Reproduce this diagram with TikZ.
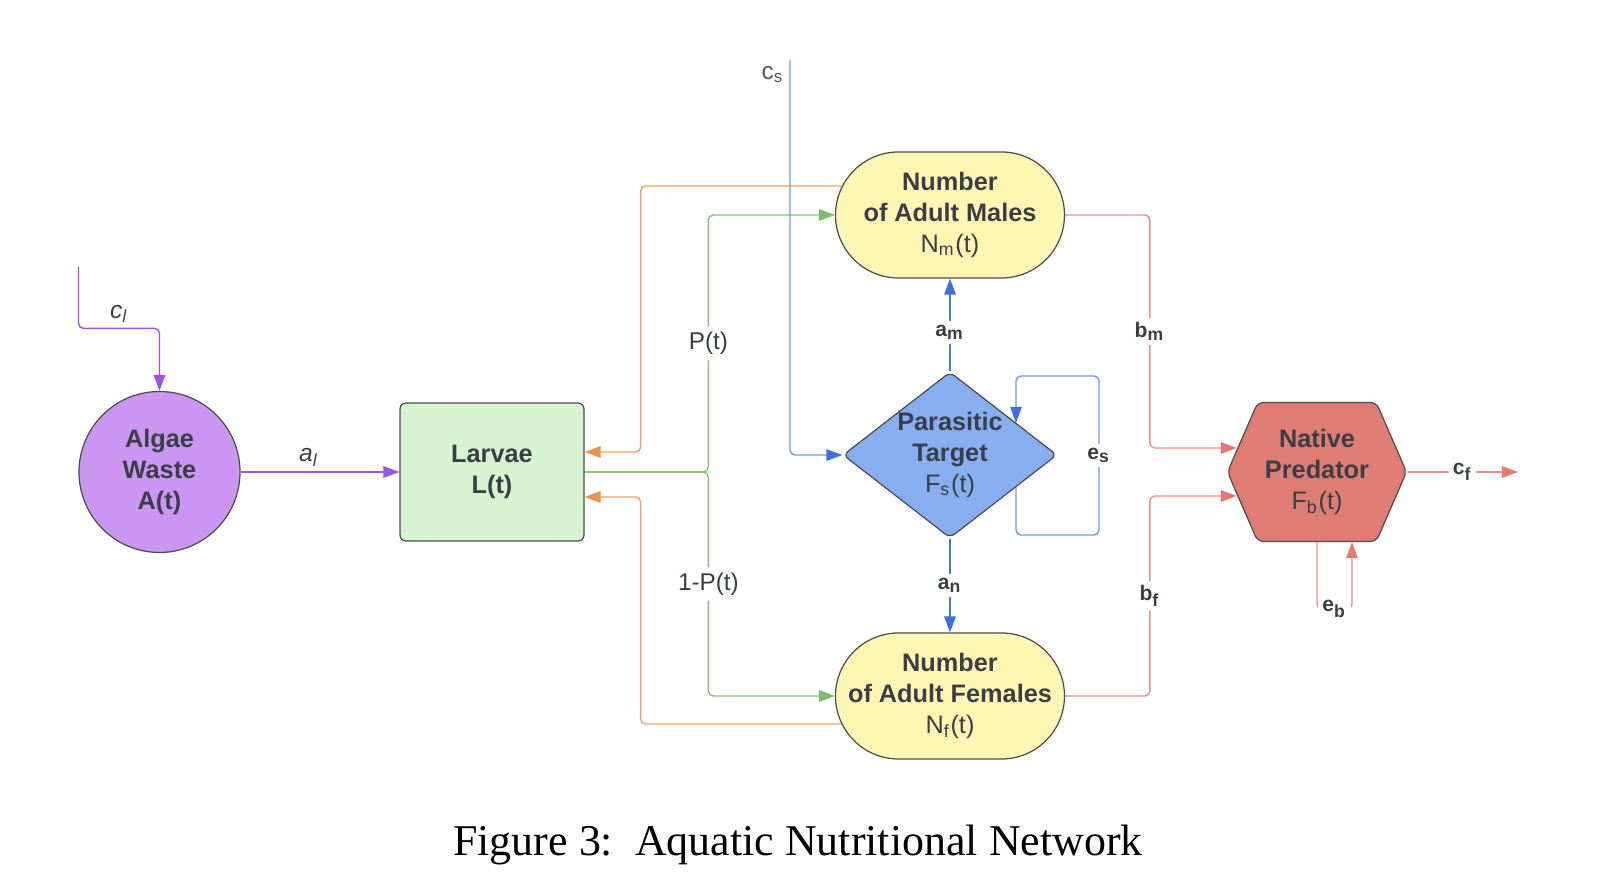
\documentclass[tikz,border=0pt]{standalone}
\usepackage{fontspec}
\setmainfont{Liberation Serif}
\newfontfamily\lucid{Liberation Sans}
\usetikzlibrary{positioning,arrows.meta,shapes.geometric,shapes.misc,shapes.symbols,backgrounds}
\definecolor{txt}{HTML}{3A3F47}
\definecolor{edge}{HTML}{4D4D4D}
\definecolor{algaefill}{HTML}{CA96F2}
\definecolor{larvafill}{HTML}{D6F4CF}
\definecolor{adultfill}{HTML}{FFF6B3}
\definecolor{targetfill}{HTML}{86AEF1}
\definecolor{predfill}{HTML}{DF7C74}
\definecolor{purp}{HTML}{9D52EA}
\definecolor{grn}{HTML}{84C170}
\definecolor{grntip}{HTML}{7BBD66}
\definecolor{orng}{HTML}{EDA064}
\definecolor{orngtip}{HTML}{E8944A}
\definecolor{blu}{HTML}{6F99EC}
\definecolor{bludark}{HTML}{4676E0}
\definecolor{blutip}{HTML}{3E6FDE}
\definecolor{rd}{HTML}{EA8F89}
\definecolor{rdtip}{HTML}{E47A72}
\newcommand{\ctext}[1]{\makebox[0pt]{#1}}
\begin{document}
\begin{tikzpicture}[node distance={3cm},
	main/.style = {draw=edge, line width=0.35pt, text=txt, align=center, inner sep=0pt, font=\lucid\fontsize{7.2}{8.8}\selectfont\bfseries},
	lbl/.style = {fill=white, inner sep=1.5pt, text=txt, font=\lucid\fontsize{6.9}{8}\selectfont},
	ital/.style = {inner sep=1.5pt, text=txt, font=\lucid\fontsize{7}{8}\selectfont\itshape},
	sub/.style = {fill=white, inner sep=1.2pt, text=txt, font=\lucid\fontsize{6}{7}\selectfont\bfseries},
	flow/.style = {rounded corners=0.5mm, -{Triangle[length=1.6mm, width=1.15mm, color=#1]}}]
		\useasboundingbox (0,0) rectangle (16.04,-8.90);
		\node[main, circle, fill=algaefill, minimum size=1.61cm] (A) at (1.595,-4.72) {\ctext{Algae}\\\ctext{Waste}\\\ctext{A(t)}};
		\node[main, rectangle, rounded corners=0.6mm, fill=larvafill, minimum width=1.84cm, minimum height=1.38cm] (L) [right of=A, node distance=3.325cm] {\ctext{Larvae}\\\ctext{L(t)}};
		\node[main, diamond, rounded corners=0.6mm, fill=targetfill, minimum width=2.14cm, minimum height=1.66cm] (Fs) [right of=L, node distance=4.58cm, yshift=1.7mm] {\ctext{Parasitic}\\\ctext{Target}\\\ctext{\mdseries F\textsubscript{s}(t)}};
		\node[main, rounded rectangle, fill=adultfill, minimum width=2.29cm, minimum height=1.26cm] (Nm) [above of=Fs, node distance=2.40cm] {\ctext{Number}\\\ctext{of Adult Males}\\\ctext{\mdseries N\textsubscript{m}(t)}};
		\node[main, rounded rectangle, fill=adultfill, minimum width=2.29cm, minimum height=1.26cm] (Nf) [below of=Fs, node distance=2.41cm] {\ctext{Number}\\\ctext{of Adult Females}\\\ctext{\mdseries N\textsubscript{f}(t)}};
		\node[main, signal, signal to=west and east, signal pointer angle=133, rounded corners=0.6mm, fill=predfill, minimum width=1.79cm, minimum height=1.39cm] (Fb) [right of=Fs, node distance=3.67cm, yshift=-1.7mm] {\ctext{Native}\\\ctext{Predator}\\\ctext{\mdseries F\textsubscript{b}(t)}};
		\coordinate (cl) at (0.785,-2.67);
		\coordinate (cs) at (7.90,-0.60);
		\coordinate (cf) at (15.18,-4.72);
		\node[font=\fontsize{12.5}{15}\selectfont, anchor=base] (cap) at (7.98,-8.56) {Figure 3:\ \ Aquatic Nutritional Network};
		\begin{scope}[on background layer]
		\draw[purp, flow=purp] (cl) |- node[ital, pos=0.75, above] {c\textsubscript{l}} ([yshift=6.25mm]A.north) -- (A.north);
		\draw[purp, flow=purp] (A) -- node[ital, pos=0.43, above] {a\textsubscript{l}} (L);
		\draw[grn, flow=grntip] (L.east) -| node[lbl, pos=0.75] {P(t)} ([xshift=-12.65mm]Nm.west) -- (Nm.west);
		\draw[grn, flow=grntip] (L.east) -| node[lbl, pos=0.75] {1-P(t)} ([xshift=-12.65mm]Nf.west) -- (Nf.west);
		\draw[orng, flow=orngtip] ([yshift=2.9mm]Nm.center) -| ([xshift=5.6mm, yshift=2mm]L.east) -- ([yshift=2mm]L.east);
		\draw[orng, flow=orngtip] ([yshift=-2.8mm]Nf.center) -| ([xshift=5.6mm, yshift=-2.5mm]L.east) -- ([yshift=-2.5mm]L.east);
		\draw[blu, flow=blutip] (cs) node[lbl, below left, fill=none, text=black!65] {c\textsubscript{s}} |- (Fs.west);
		\draw[bludark, flow=blutip] (Fs.north) -- node[sub, pos=0.42] {a\textsubscript{m}} (Nm.south);
		\draw[bludark, flow=blutip] (Fs.south) -- node[sub] {a\textsubscript{n}} (Nf.north);
		\draw[blu, flow=blutip] ([xshift=6.6mm]Fs.center) -- ++(0,-0.80) -- ++(0.83,0) -- node[sub] {e\textsubscript{s}} ++(0,1.59) -- ++(-0.83,0) -- ([xshift=6.6mm, yshift=3.2mm]Fs.center);
		\draw[rd, flow=rdtip] (Nm.east) -| node[sub, pos=0.75] {b\textsubscript{m}} ([xshift=-7.7mm, yshift=2.4mm]Fb.west) -- ([xshift=1mm, yshift=2.4mm]Fb.west);
		\draw[rd, flow=rdtip] (Nf.east) -| node[sub, pos=0.75] {b\textsubscript{f}} ([xshift=-7.7mm, yshift=-2.4mm]Fb.west) -- ([xshift=1mm, yshift=-2.4mm]Fb.west);
		\draw[rd, flow=rdtip] (Fb.east) -- node[sub] {c\textsubscript{f}} (cf);
		\draw[rd, flow=rdtip] (Fb.south) |- node[sub, pos=0.75] {e\textsubscript{b}} ([xshift=3.5mm, yshift=-6.7mm]Fb.south) -- ([xshift=3.5mm]Fb.south);
		\end{scope}
	\end{tikzpicture}
\end{document}
